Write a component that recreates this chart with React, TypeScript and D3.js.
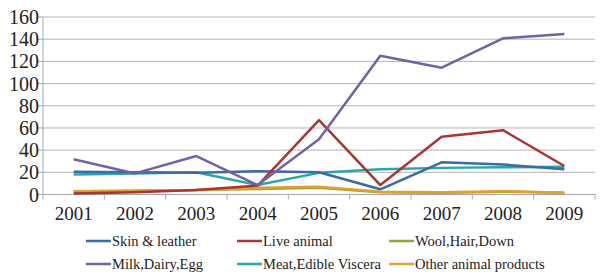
import React from 'react';
import * as d3 from 'd3';

const years = ['2001', '2002', '2003', '2004', '2005', '2006', '2007', '2008', '2009'];
const skinLeather = [20.5, 20, 19.5, 21, 20, 4.7, 29, 27, 22.7];
const liveAnimal = [1, 2, 4, 8, 67, 8.5, 52, 58, 25.7];
const woolHairDown = [2.5, 3, 4, 5, 6, 2, 1.5, 2.5, 1.5];
const milkDairyEgg = [31.7, 19, 34.7, 8.5, 49.7, 125, 114.3, 140.8, 144.7];
const meatViscera = [18, 19, 20, 8.5, 19.5, 22.7, 24, 24.5, 25];
const otherAnimal = [3, 3.5, 4, 6, 7, 2.5, 2, 3, 1.6];
const yTicks = [0, 20, 40, 60, 80, 100, 120, 140, 160];

const series = [
	{ name: 'Skin & leather', values: skinLeather, color: '#3a6aa8' },
	{ name: 'Live animal', values: liveAnimal, color: '#ab3434' },
	{ name: 'Wool,Hair,Down', values: woolHairDown, color: '#9aa33a' },
	{ name: 'Milk,Dairy,Egg', values: milkDairyEgg, color: '#7162a8' },
	{ name: 'Meat,Edible Viscera', values: meatViscera, color: '#2ba6a6' },
	{ name: 'Other animal products', values: otherAnimal, color: '#e0a030' },
];
// draw order so purple/red sit on top like the source
const drawOrder = [4, 0, 2, 5, 1, 3];

const width = 600;
const height = 275;
const left = 43;
const right = 595;
const top = 17;
const bottom = 194.5;
const axisColor = '#a8a8a8';
const family = 'Liberation Serif';
const textStyle = (size) => ({ fontFamily: `'${ family }'`, fontSize: `${ size }px` });

const x = d3.scaleBand().domain(years).range([left, right]);
const y = d3.scaleLinear().domain([0, 160]).range([bottom, top]);
const line = d3.line()
	.x((d, i) => x(years[i]) + (x.bandwidth() / 2))
	.y((d) => y(d));

const colX = [86, 237, 389];
const rowY = [241, 264];

const App = () => (
	<svg width={ width } height={ height } style={ { position: 'absolute', left: 0, top: 0 } }>
		{ yTicks.slice(1).map((t) => (
			<line key={ t } x1={ left } x2={ right } y1={ y(t) } y2={ y(t) } stroke="#b4b4b4"/>
		)) }
		<line x1={ left } x2={ left } y1={ top } y2={ bottom } stroke={ axisColor }/>
		<line x1={ left } x2={ right } y1={ bottom } y2={ bottom } stroke={ axisColor }/>
		{ yTicks.map((t) => (
			<g key={ t }>
				<line x1={ left - 5 } x2={ left } y1={ y(t) } y2={ y(t) } stroke={ axisColor }/>
				<text x={ left - 4 } y={ y(t) } dy="0.35em" textAnchor="end" fill="#222"
					fontFamily={ family } style={ textStyle(20) }>
					{ `${ t }` }
				</text>
			</g>
		)) }
		{ years.map((yr) => (
			<g key={ yr }>
				<line x1={ x(yr) } x2={ x(yr) } y1={ bottom } y2={ bottom + 5 } stroke={ axisColor }/>
				<text x={ x(yr) + (x.bandwidth() / 2) } y={ bottom + 25 } textAnchor="middle" fill="#222"
					fontFamily={ family } style={ textStyle(19) }>
					{ yr }
				</text>
			</g>
		)) }
		<line x1={ right } x2={ right } y1={ bottom } y2={ bottom + 5 } stroke={ axisColor }/>
		{ drawOrder.map((i) => (
			<path key={ series[i].name } d={ line(series[i].values) } fill="none"
				stroke={ series[i].color } strokeWidth={ 2.5 } strokeLinejoin="round"/>
		)) }
		{ series.map((s, i) => (
			<g key={ s.name } transform={ `translate(${ colX[i % 3] },${ rowY[Math.floor(i / 3)] })` }>
				<line x1={ 0 } x2={ 25 } stroke={ s.color } strokeWidth={ 2.5 }/>
				<text x={ 26 } dy="0.32em" fill="#222" fontFamily={ family } style={ textStyle(14.5) }>
					{ s.name }
				</text>
			</g>
		)) }
	</svg>
);

export default App;
